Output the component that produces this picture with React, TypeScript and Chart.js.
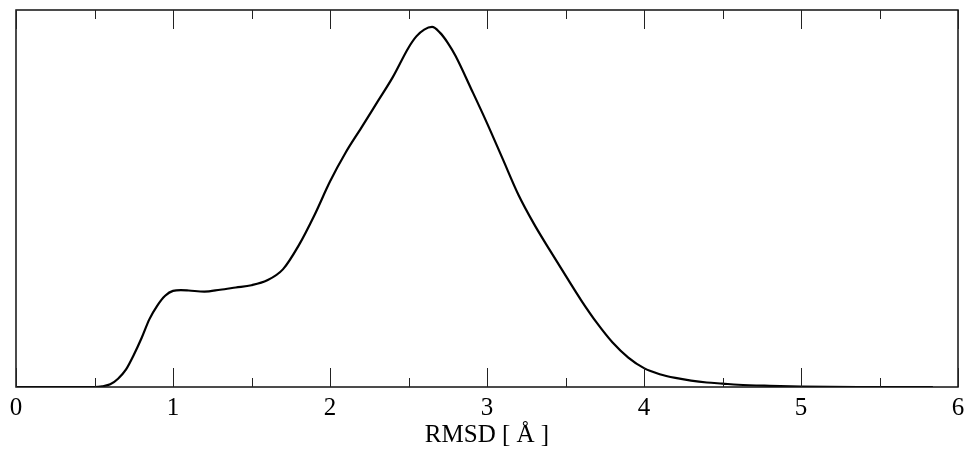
import React, { useEffect, useRef } from "react";
import { Chart, registerables } from "chart.js";

Chart.register(...registerables);

const rmsdX = [0, 0.5, 0.55, 0.6, 0.65, 0.7, 0.75, 0.8, 0.85, 0.9, 0.95, 1.0, 1.05, 1.1, 1.2, 1.3, 1.4, 1.5, 1.6, 1.7, 1.8, 1.9, 2.0, 2.1, 2.2, 2.3, 2.4, 2.5, 2.55, 2.6, 2.65, 2.7, 2.75, 2.8, 2.9, 3.0, 3.1, 3.2, 3.3, 3.4, 3.5, 3.6, 3.7, 3.8, 3.9, 4.0, 4.1, 4.2, 4.3, 4.4, 4.5, 4.6, 4.8, 5.0, 5.4, 5.84];
const density = [0, 0, 0.002, 0.007, 0.022, 0.046, 0.085, 0.13, 0.18, 0.216, 0.242, 0.255, 0.257, 0.256, 0.253, 0.258, 0.264, 0.27, 0.283, 0.312, 0.375, 0.455, 0.545, 0.622, 0.688, 0.755, 0.822, 0.9, 0.93, 0.948, 0.955, 0.94, 0.913, 0.878, 0.79, 0.7, 0.605, 0.51, 0.432, 0.363, 0.296, 0.23, 0.17, 0.118, 0.078, 0.05, 0.034, 0.024, 0.017, 0.012, 0.009, 0.006, 0.003, 0.001, 0, 0];
const majorTicks = [0, 1, 2, 3, 4, 5, 6];
const minorTicks = [0.5, 1.5, 2.5, 3.5, 4.5, 5.5];
const xTitle = "RMSD [ Å ]";

const framePlugin = {
  id: "frameTicks",
  afterDraw(chart: any) {
    const { ctx, chartArea } = chart;
    const xs = chart.scales.x;
    const { left, right, top, bottom } = chartArea;
    ctx.save();
    ctx.strokeStyle = "#111";
    ctx.lineWidth = 1.5;
    ctx.strokeRect(left, top, right - left, bottom - top);
    ctx.lineWidth = 1;
    ctx.strokeStyle = "#222";
    const drawTick = (v: number, len: number) => {
      const px = Math.round(xs.getPixelForValue(v)) + 0.5;
      ctx.beginPath();
      ctx.moveTo(px, top);
      ctx.lineTo(px, top + len);
      ctx.moveTo(px, bottom);
      ctx.lineTo(px, bottom - len);
      ctx.stroke();
    };
    majorTicks.forEach((v) => drawTick(v, 19));
    minorTicks.forEach((v) => drawTick(v, 9));
    ctx.restore();
  },
};

export default function App() {
  const ref = useRef<HTMLCanvasElement>(null);
  useEffect(() => {
    const canvas = ref.current;
    if (!canvas) return;
    const chart = new Chart(canvas, {
      type: "line",
      data: {
        datasets: [
          {
            data: rmsdX.map((x, i) => ({ x, y: density[i] })),
            borderColor: "#000",
            borderWidth: 2.2,
            pointRadius: 0,
            fill: false,
            cubicInterpolationMode: "monotone",
          },
        ],
      },
      options: {
        animation: false,
        responsive: false,
        maintainAspectRatio: false,
        layout: { padding: { left: 16, right: 6, top: 10, bottom: 0 } },
        plugins: { legend: { display: false }, tooltip: { enabled: false } },
        scales: {
          x: {
            type: "linear",
            min: 0,
            max: 6,
            afterBuildTicks: (scale: any) => {
              scale.ticks = majorTicks.map((v) => ({ value: v }));
            },
            afterFit: (scale: any) => {
              scale.height = 68;
              scale.paddingLeft = 0;
              scale.paddingRight = 0;
            },
            grid: { display: false, drawTicks: false },
            border: { display: false },
            ticks: {
              color: "#000",
              padding: 6,
              maxRotation: 0,
              autoSkip: false,
              font: { family: "'Liberation Serif', 'Times New Roman', serif", size: 25, lineHeight: 1.2 },
            },
            title: {
              display: true,
              text: xTitle,
              color: "#000",
              padding: { top: 0, bottom: 5 },
              font: { family: "'Liberation Serif', 'Times New Roman', serif", size: 25, lineHeight: 1.2 },
            },
          },
          y: { display: false, min: 0, max: 1 },
        },
      },
      plugins: [framePlugin],
    } as any);
    return () => chart.destroy();
  }, []);
  return (
    <div style={{ position: "fixed", left: 0, top: 0, width: 964, height: 455, background: "#fff" }}>
      <canvas ref={ref} width={964} height={455} style={{ width: 964, height: 455, display: "block" }} />
    </div>
  );
}
